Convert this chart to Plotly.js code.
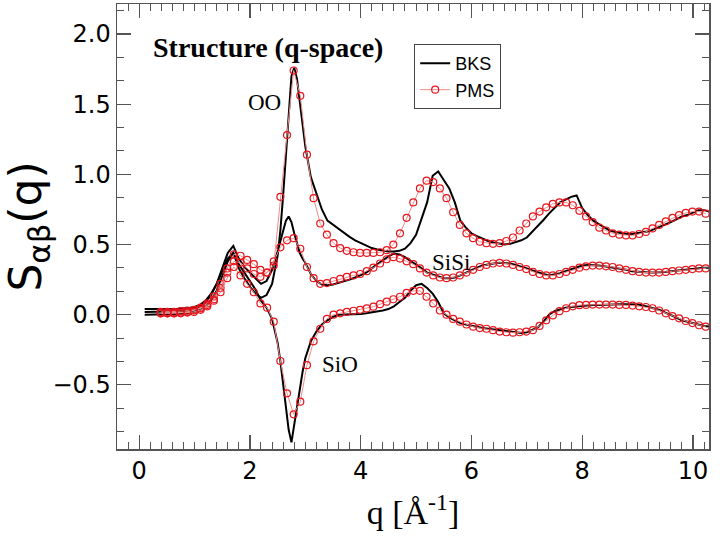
<!DOCTYPE html>
<html>
<head>
<meta charset="utf-8">
<script src="https://cdn.plot.ly/plotly-3.0.1.min.js"></script>
<style>html,body{margin:0;padding:0;background:#fff;}#chart{width:720px;height:540px;}</style>
</head>
<body>
<div id="chart"></div>
<script>
// PMS sample positions (q, 1/Angstrom)
const qP = [0.39,0.51,0.63,0.75,0.87,0.99,1.11,1.23,1.35,1.47,
1.59,1.71,1.83,1.95,2.07,2.19,2.31,2.43,2.55,2.67,
2.79,2.91,3.03,3.15,3.27,3.39,3.51,3.63,3.75,3.87,
3.99,4.11,4.23,4.35,4.47,4.59,4.71,4.83,4.95,5.07,
5.19,5.31,5.43,5.55,5.67,5.79,5.91,6.03,6.15,6.27,
6.39,6.51,6.63,6.75,6.87,6.99,7.11,7.23,7.35,7.47,
7.59,7.71,7.83,7.95,8.07,8.19,8.31,8.43,8.55,8.67,
8.79,8.91,9.03,9.15,9.27,9.39,9.51,9.63,9.75,9.87,
9.99,10.11,10.23];
const pmsOO = [0.02,0.02,0.02,0.025,0.03,0.035,0.05,0.08,0.13,0.22,
0.33,0.43,0.42,0.39,0.36,0.32,0.30,0.35,0.84,1.28,
1.74,1.56,1.14,0.83,0.65,0.57,0.51,0.475,0.455,0.445,
0.44,0.44,0.44,0.445,0.46,0.50,0.58,0.69,0.80,0.90,
0.955,0.945,0.90,0.83,0.73,0.64,0.58,0.545,0.52,0.51,
0.505,0.51,0.525,0.55,0.60,0.65,0.70,0.735,0.765,0.79,
0.80,0.80,0.78,0.74,0.70,0.66,0.62,0.60,0.58,0.57,
0.565,0.565,0.575,0.59,0.615,0.64,0.665,0.69,0.71,0.725,
0.735,0.735,0.72];
const pmsSiSi = [0.01,0.01,0.01,0.015,0.02,0.03,0.045,0.07,0.11,0.19,
0.30,0.38,0.37,0.33,0.29,0.27,0.30,0.38,0.48,0.53,
0.545,0.47,0.34,0.26,0.22,0.225,0.24,0.255,0.27,0.28,
0.29,0.31,0.335,0.365,0.395,0.41,0.40,0.38,0.36,0.33,
0.30,0.28,0.265,0.26,0.265,0.28,0.30,0.32,0.34,0.355,
0.365,0.37,0.365,0.355,0.34,0.325,0.305,0.29,0.28,0.28,
0.29,0.305,0.32,0.335,0.345,0.35,0.35,0.345,0.34,0.33,
0.32,0.31,0.305,0.30,0.30,0.30,0.305,0.31,0.315,0.32,
0.325,0.33,0.33];
const pmsSiO = [0.01,0.01,0.01,0.01,0.015,0.02,0.035,0.06,0.10,0.16,
0.26,0.34,0.28,0.22,0.16,0.08,0.05,-0.05,-0.33,-0.56,
-0.71,-0.62,-0.36,-0.19,-0.10,-0.03,0.0,0.01,0.02,0.028,
0.035,0.045,0.057,0.075,0.093,0.11,0.128,0.155,0.17,0.17,
0.128,0.08,0.03,0.0,-0.03,-0.05,-0.07,-0.085,-0.095,-0.10,
-0.11,-0.12,-0.125,-0.128,-0.125,-0.12,-0.11,-0.08,-0.04,-0.005,
0.025,0.046,0.06,0.068,0.07,0.072,0.072,0.072,0.072,0.07,
0.07,0.065,0.06,0.055,0.046,0.03,0.01,-0.01,-0.026,-0.045,
-0.06,-0.075,-0.085];

// BKS sample positions
const qB = [0.1,0.3,0.5,0.7,0.9,1.0,1.1,1.2,1.3,1.4,
1.5,1.6,1.7,1.8,1.9,2.0,2.1,2.2,2.3,2.4,
2.5,2.55,2.6,2.65,2.7,2.75,2.8,2.85,2.9,2.95,
3.0,3.1,3.2,3.3,3.4,3.5,3.6,3.7,3.8,3.9,
4.0,4.1,4.2,4.3,4.4,4.5,4.6,4.7,4.8,4.9,
5.0,5.1,5.2,5.3,5.4,5.5,5.6,5.7,5.8,5.9,
6.0,6.1,6.2,6.3,6.4,6.5,6.6,6.7,6.8,6.9,
7.0,7.1,7.2,7.3,7.4,7.5,7.6,7.7,7.8,7.9,
8.0,8.1,8.2,8.3,8.4,8.5,8.6,8.7,8.8,8.9,
9.0,9.1,9.2,9.3,9.4,9.5,9.6,9.7,9.8,9.9,
10.0,10.1,10.2,10.3];
const bksOO = [0.04,0.04,0.04,0.042,0.048,0.055,0.07,0.10,0.15,0.22,
0.31,0.40,0.44,0.33,0.26,0.20,0.15,0.12,0.14,0.22,
0.42,0.60,0.85,1.15,1.45,1.70,1.76,1.68,1.52,1.36,
1.20,0.98,0.86,0.75,0.67,0.64,0.61,0.58,0.555,0.53,
0.51,0.49,0.475,0.465,0.455,0.45,0.45,0.455,0.47,0.51,
0.57,0.68,0.80,0.99,1.02,0.96,0.90,0.80,0.67,0.62,
0.58,0.56,0.54,0.525,0.515,0.51,0.50,0.505,0.515,0.53,
0.55,0.59,0.63,0.675,0.72,0.76,0.80,0.82,0.84,0.85,
0.76,0.71,0.67,0.645,0.62,0.60,0.59,0.58,0.575,0.575,
0.58,0.585,0.595,0.61,0.625,0.64,0.66,0.68,0.70,0.71,
0.73,0.745,0.745,0.735];
const bksSiSi = [0.02,0.02,0.02,0.025,0.03,0.04,0.06,0.09,0.14,0.22,
0.33,0.44,0.49,0.40,0.34,0.30,0.26,0.22,0.24,0.32,
0.45,0.53,0.60,0.67,0.70,0.66,0.58,0.50,0.44,0.40,
0.37,0.29,0.24,0.215,0.21,0.215,0.225,0.235,0.25,0.265,
0.28,0.30,0.33,0.36,0.39,0.415,0.435,0.43,0.41,0.385,
0.36,0.33,0.30,0.285,0.27,0.26,0.26,0.265,0.28,0.30,
0.32,0.335,0.35,0.36,0.365,0.37,0.37,0.365,0.355,0.345,
0.33,0.315,0.30,0.29,0.28,0.285,0.295,0.31,0.325,0.34,
0.35,0.355,0.355,0.35,0.345,0.34,0.335,0.33,0.32,0.31,
0.305,0.30,0.30,0.30,0.30,0.305,0.31,0.315,0.32,0.325,
0.33,0.335,0.335,0.335];
const bksSiO = [0.0,0.0,0.0,0.005,0.01,0.02,0.035,0.06,0.10,0.17,
0.27,0.38,0.44,0.36,0.30,0.24,0.18,0.10,0.05,-0.03,
-0.20,-0.33,-0.49,-0.66,-0.82,-0.91,-0.78,-0.64,-0.52,-0.41,
-0.31,-0.19,-0.12,-0.07,-0.04,-0.015,0.0,0.0,0.0,0.0,
0.005,0.01,0.015,0.02,0.03,0.04,0.06,0.09,0.12,0.17,
0.21,0.22,0.19,0.15,0.09,0.01,-0.02,-0.04,-0.06,-0.07,
-0.08,-0.09,-0.095,-0.10,-0.105,-0.11,-0.115,-0.12,-0.125,-0.13,
-0.125,-0.11,-0.09,-0.05,0.0,0.025,0.04,0.05,0.055,0.06,
0.065,0.065,0.07,0.07,0.072,0.075,0.075,0.075,0.075,0.075,
0.072,0.065,0.055,0.045,0.034,0.015,0.0,-0.02,-0.04,-0.05,
-0.06,-0.075,-0.08,-0.085];

const seriesNames = ['BKS', 'PMS'];
const labels = ['Structure (q-space)', 'OO', 'SiSi', 'SiO'];

function bks(y, show) {
  return {x: qB, y: y, type: 'scatter', mode: 'lines', name: seriesNames[0],
    legendgroup: 'bks', showlegend: show,
    line: {color: '#000', width: 2}};
}
function pms(y, show) {
  return {x: qP, y: y, type: 'scatter', mode: 'lines+markers', name: seriesNames[1],
    legendgroup: 'pms', showlegend: show,
    line: {color: '#f08c8c', width: 1},
    marker: {symbol: 'circle-open', size: 7, color: '#e8141b', line: {width: 1.2, color: '#e8141b'}}};
}

const data = [bks(bksOO, true), bks(bksSiSi, false), bks(bksSiO, false),
              pms(pmsOO, true), pms(pmsSiSi, false), pms(pmsSiO, false)];

const axisCommon = {
  showgrid: false, zeroline: false, showline: true, linecolor: '#555', linewidth: 1.5,
  mirror: 'allticks', ticks: 'inside', tickcolor: '#555', tickwidth: 1.2, ticklen: 14,
  tickfont: {family: 'DejaVu Sans, Arial, sans-serif', size: 24, color: '#000'}
};

const layout = {
  width: 720, height: 540,
  margin: {l: 117, r: 11, t: 4, b: 91},
  paper_bgcolor: '#fff', plot_bgcolor: '#fff',
  showlegend: true,
  legend: {x: 0.502, y: 0.91, xanchor: 'left', yanchor: 'top',
    bordercolor: '#444', borderwidth: 1, bgcolor: '#fff',
    font: {family: 'Liberation Sans, Arial, sans-serif', size: 18, color: '#000'},
    tracegroupgap: 0},
  xaxis: Object.assign({}, axisCommon, {
    range: [-0.40, 10.29], tickmode: 'linear', tick0: 0, dtick: 2,
    tickformat: 'd',
    minor: {dtick: 0.2, ticklen: 7, ticks: 'inside', tickcolor: '#555', tickwidth: 1},
    title: {text: 'q [Å<sup>-1</sup>]', standoff: 16,
      font: {family: 'Liberation Serif, Times New Roman, serif', size: 34, color: '#000'}}
  }),
  yaxis: Object.assign({}, axisCommon, {
    range: [-0.957, 2.214], tickmode: 'linear', tick0: 0, dtick: 0.5,
    tickformat: '.1f',
    minor: {tick0: 0, dtick: 0.5 / 3, ticklen: 7, ticks: 'inside', tickcolor: '#555', tickwidth: 1},
    title: {text: 'S<sub>αβ</sub>(q)', standoff: 10,
      font: {family: 'DejaVu Sans, Arial, sans-serif', size: 44, color: '#000'}}
  }),
  annotations: [
    {x: 2.33, y: 1.907, xref: 'x', yref: 'y', text: '<b>' + labels[0] + '</b>', showarrow: false,
      font: {family: 'Liberation Serif, Times New Roman, serif', size: 28, color: '#000'}},
    {x: 2.27, y: 1.51, xref: 'x', yref: 'y', text: labels[1], showarrow: false,
      font: {family: 'Liberation Serif, Times New Roman, serif', size: 23, color: '#000'}},
    {x: 5.63, y: 0.375, xref: 'x', yref: 'y', text: labels[2], showarrow: false,
      font: {family: 'Liberation Serif, Times New Roman, serif', size: 23, color: '#000'}},
    {x: 3.63, y: -0.358, xref: 'x', yref: 'y', text: labels[3], showarrow: false,
      font: {family: 'Liberation Serif, Times New Roman, serif', size: 23, color: '#000'}}
  ]
};

Plotly.newPlot('chart', data, layout, {staticPlot: true, displayModeBar: false});
</script>
</body>
</html>
